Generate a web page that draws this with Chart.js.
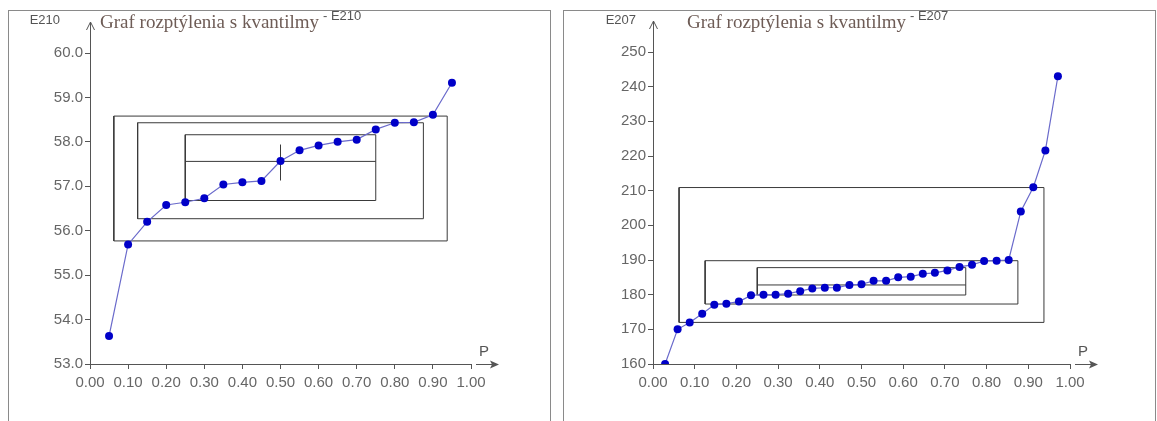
<!DOCTYPE html>
<html>
<head>
  <meta charset="utf-8">
  <title>Graf rozptýlenia s kvantilmy</title>
  <script src="https://cdn.jsdelivr.net/npm/chart.js"></script>
  <style>
    body { margin: 0; background: #fff; width: 1157px; height: 421px; overflow: hidden; position: relative; }
    .panel { position: absolute; top: 10px; height: 420px; border: 1px solid #8a8a8a; border-bottom: none; }
    .panel canvas { position: absolute; left: 0; top: 0; }
  </style>
</head>
<body>
  <div class="panel" style="left:8px;width:541px"><canvas id="chartE210" width="541" height="410"></canvas></div>
  <div class="panel" style="left:563px;width:591px"><canvas id="chartE207" width="591" height="410"></canvas></div>

  <script>
    // E210: 19 ordered values plotted against P = i/(n+1)
    const e210P = [0.05, 0.10, 0.15, 0.20, 0.25, 0.30, 0.35, 0.40, 0.45, 0.50,
                   0.55, 0.60, 0.65, 0.70, 0.75, 0.80, 0.85, 0.90, 0.95];
    const e210Values = [53.63, 55.69, 56.20, 56.58, 56.64, 56.73, 57.04, 57.09, 57.12, 57.57,
                        57.81, 57.92, 58.00, 58.05, 58.28, 58.43, 58.44, 58.61, 59.33];
    // quantile boxes: [P from, P to] and [value low, value high]
    const e210BoxP = [[0.0625, 0.9375], [0.125, 0.875], [0.25, 0.75]];
    const e210BoxE = [[55.77, 58.58], [56.27, 58.43], [56.68, 58.16]];
    const e210Median = 57.56;
    const e210Cross = [57.13, 57.94];

    // E207: 33 ordered values
    const e207P = [0.029, 0.059, 0.088, 0.118, 0.147, 0.176, 0.206, 0.235, 0.265, 0.294, 0.324,
                   0.353, 0.382, 0.412, 0.441, 0.471, 0.500, 0.529, 0.559, 0.588, 0.618, 0.647,
                   0.676, 0.706, 0.735, 0.765, 0.794, 0.824, 0.853, 0.882, 0.912, 0.941, 0.971];
    const e207Values = [160, 170, 172, 174.5, 177.1, 177.4, 178, 179.8, 180, 180, 180.3,
                        181, 181.8, 182, 182, 182.8, 183, 184, 184, 185, 185.2, 186,
                        186.3, 187, 188, 188.6, 189.7, 189.8, 190, 204, 211, 221.6, 243];
    const e207BoxP = [[0.0625, 0.9375], [0.125, 0.875], [0.25, 0.75]];
    const e207BoxE = [[172.0, 210.9], [177.3, 189.8], [179.9, 187.8]];
    const e207Median = 182.8;

    const titleText = 'Graf rozptýlenia s kvantilmy';
    const axisColor = '#555';
    const labelColor = '#666';

    function boxData(p, e) {
      return [
        { x: p[0], y: e[0] }, { x: p[1], y: e[0] }, { x: p[1], y: e[1] },
        { x: p[0], y: e[1] }, { x: p[0], y: e[0] }
      ];
    }

    function lineSet(data) {
      return {
        data: data, showLine: true, pointRadius: 0, borderColor: '#3a3a3a',
        borderWidth: 1, tension: 0, order: 2
      };
    }

    // arrows, axis names and title
    const decorations = {
      id: 'decorations',
      afterDraw(chart, args, opts) {
        const ctx = chart.ctx;
        const a = chart.chartArea;
        ctx.save();
        ctx.strokeStyle = axisColor;
        ctx.fillStyle = axisColor;
        ctx.lineWidth = 1;

        // y axis continues up to an open arrow head
        const ax = a.left + 0.5;
        const tipY = a.top - 31;
        ctx.beginPath();
        ctx.moveTo(ax, a.top);
        ctx.lineTo(ax, tipY);
        ctx.moveTo(ax - 4, tipY + 8);
        ctx.lineTo(ax, tipY);
        ctx.lineTo(ax + 4, tipY + 8);
        ctx.stroke();

        // x arrow after the last tick
        const ay = a.bottom + 0.5;
        ctx.beginPath();
        ctx.moveTo(a.right + 5, ay);
        ctx.lineTo(a.right + 26, ay);
        ctx.stroke();
        ctx.beginPath();
        ctx.moveTo(a.right + 28, ay);
        ctx.lineTo(a.right + 19, ay - 4);
        ctx.lineTo(a.right + 21, ay);
        ctx.lineTo(a.right + 19, ay + 4);
        ctx.closePath();
        ctx.fill();

        ctx.font = '15px "Liberation Sans", Arial, sans-serif';
        ctx.textBaseline = 'middle';
        ctx.textAlign = 'left';
        ctx.fillText('P', a.right + 8, a.bottom - 12);

        ctx.font = '13px "Liberation Sans", Arial, sans-serif';
        ctx.textAlign = 'right';
        ctx.fillText(opts.name, a.left + opts.nameDx, 9);

        // title in serif, then superscript variable name
        ctx.textAlign = 'left';
        ctx.font = '19px "Liberation Serif", "Times New Roman", serif';
        ctx.fillStyle = '#6e5c56';
        const tx = a.left + opts.titleDx;
        ctx.fillText(titleText, tx, 12);
        const tw = ctx.measureText(titleText).width;
        ctx.font = '13px "Liberation Sans", Arial, sans-serif';
        ctx.fillStyle = '#555';
        ctx.fillText('- ' + opts.name, tx + tw + 4, 5);
        ctx.restore();
      }
    };

    function makeChart(id, p, values, boxP, boxE, median, cross, y, geo) {
      const datasets = [];
      boxP.forEach((bp, i) => datasets.push(lineSet(boxData(bp, boxE[i]))));
      datasets.push(lineSet([{ x: boxP[2][0], y: median }, { x: boxP[2][1], y: median }]));
      if (cross) {
        datasets.push(lineSet([{ x: 0.5, y: cross[0] }, { x: 0.5, y: cross[1] }]));
      }
      datasets.push({
        data: p.map((v, i) => ({ x: v, y: values[i] })),
        showLine: true,
        borderColor: '#6a6acb',
        borderWidth: 1.2,
        pointRadius: 4,
        pointBackgroundColor: '#0000c8',
        pointBorderColor: '#0000c8',
        pointBorderWidth: 0,
        tension: 0,
        order: 0
      });

      const tickFont = { family: '"Liberation Sans", Arial, sans-serif', size: 15 };
      const gridOpts = {
        display: true, drawOnChartArea: false, drawTicks: true,
        tickLength: 5, color: axisColor, tickColor: axisColor
      };

      return new Chart(document.getElementById(id), {
        type: 'scatter',
        data: { datasets: datasets },
        options: {
          responsive: false,
          animation: false,
          layout: { padding: { left: 0, top: geo.top, right: geo.right, bottom: geo.bottom } },
          plugins: {
            legend: { display: false },
            tooltip: { enabled: false },
            decorations: geo.deco
          },
          scales: {
            x: {
              type: 'linear', min: 0, max: 1,
              grid: gridOpts,
              border: { display: true, color: axisColor, width: 1 },
              ticks: {
                stepSize: 0.1, autoSkip: false, maxRotation: 0, padding: 5,
                color: labelColor, font: tickFont,
                callback: v => Number(v).toFixed(2)
              },
              afterFit: s => { s.height = 40; }
            },
            y: {
              type: 'linear', min: y.min, max: y.max,
              grid: gridOpts,
              border: { display: true, color: axisColor, width: 1 },
              ticks: {
                stepSize: y.step, autoSkip: false, padding: 2,
                color: labelColor, font: tickFont,
                callback: v => Number(v).toFixed(y.digits)
              },
              afterFit: s => { s.width = geo.left; }
            }
          }
        },
        plugins: [decorations]
      });
    }

    makeChart('chartE210', e210P, e210Values, e210BoxP, e210BoxE, e210Median, e210Cross,
      { min: 53, max: 60, step: 1, digits: 1 },
      { left: 81, top: 42, right: 79, bottom: 17,
        deco: { name: 'E210', nameDx: -30, titleDx: 10 } });

    makeChart('chartE207', e207P, e207Values, e207BoxP, e207BoxE, e207Median, null,
      { min: 160, max: 250, step: 10, digits: 0 },
      { left: 89, top: 41, right: 85, bottom: 17,
        deco: { name: 'E207', nameDx: -17, titleDx: 34 } });
  </script>
</body>
</html>
